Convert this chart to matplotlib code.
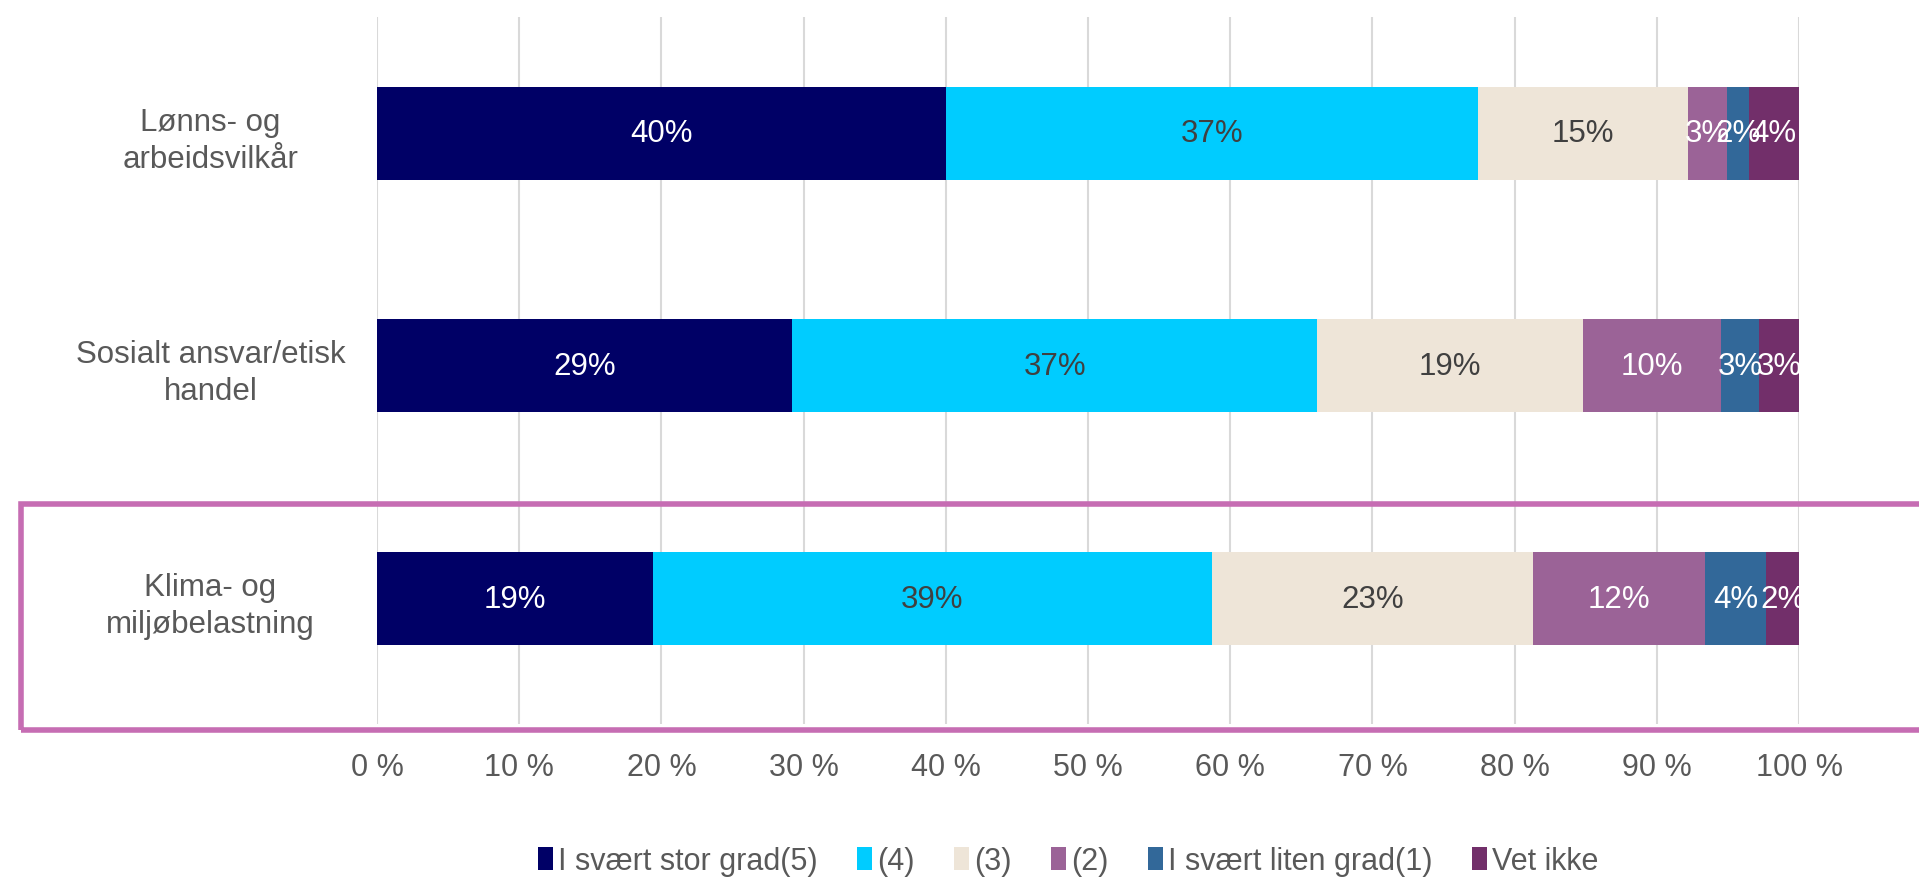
import numpy as np
import matplotlib.pyplot as plt
from matplotlib.patches import Rectangle, Patch

plt.rcParams['font.family'] = ['Liberation Sans', 'DejaVu Sans']

# Andeler (%) per kategori
categories = ["Lønns- og\narbeidsvilkår", "Sosialt ansvar/etisk\nhandel", "Klima- og\nmiljøbelastning"]
series = ["I svært stor grad(5)", "(4)", "(3)", "(2)", "I svært liten grad(1)", "Vet ikke"]
stor5 = [40.0, 29.2, 19.4]
grad4 = [37.4, 36.9, 39.3]
grad3 = [14.8, 18.7, 22.6]
grad2 = [2.7, 9.7, 12.1]
liten1 = [1.6, 2.7, 4.3]
vet_ikke = [3.5, 2.8, 2.3]

colors = ["#000066", "#00CCFF", "#EEE5D8", "#9B6397", "#326899", "#722F6A"]
text_colors = ["white", "#404040", "#404040", "white", "white", "white"]

data = np.array([stor5, grad4, grad3, grad2, liten1, vet_ikke])

fig = plt.figure(figsize=(19.19, 8.78), dpi=100)
ax = fig.add_axes([0.1965, 0.174, 0.741, 0.8055])

y = np.arange(len(categories))
left = np.zeros(len(categories))
for i, name in enumerate(series):
    vals = data[i]
    ax.barh(y, vals, left=left, height=0.4, color=colors[i], label=name, zorder=3)
    for j, v in enumerate(vals):
        ax.text(left[j] + v / 2, y[j], f"{v:.0f}%", ha="center", va="center",
                fontsize=22.5, color=text_colors[i], zorder=4)
    left += vals

ax.set_xlim(0, 100)
ax.set_ylim(2.54, -0.5)
ax.set_xticks(np.arange(0, 101, 10))
ax.set_xticklabels([f"{t} %" for t in range(0, 101, 10)], fontsize=22, color="#595959")
ax.set_yticks(y)
ax.set_yticklabels(categories, fontsize=22.5, color="#595959", ha="center", linespacing=1.3)
ax.tick_params(axis="y", length=0, pad=120)
ax.tick_params(axis="x", length=0, pad=20)
ax.grid(axis="x", color="#D9D9D9", linewidth=1.5, zorder=0)
for s in ax.spines.values():
    s.set_visible(False)

# markering rundt siste kategori
fig.patches.append(Rectangle((0.011, 0.1675), 1.0, 0.2575, transform=fig.transFigure,
                             fill=False, edgecolor="#C66DB3", linewidth=4, clip_on=False))

handles = [Patch(facecolor=c, edgecolor="none") for c in colors]
fig.legend(handles, series, loc="center", bbox_to_anchor=(0.5566, 0.018), ncol=6,
           frameon=False, fontsize=22, labelcolor="#595959", handlelength=0.5,
           handleheight=0.8, handletextpad=0.15, columnspacing=1.3)

fig.savefig("out.png", dpi=100)
